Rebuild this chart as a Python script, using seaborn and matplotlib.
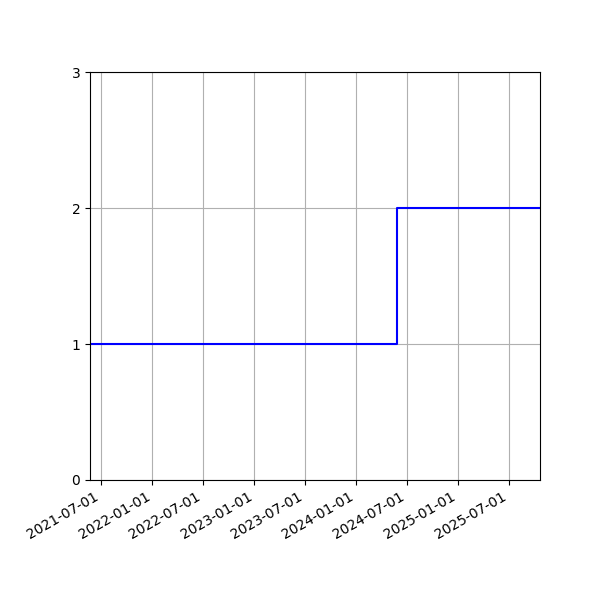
import pandas as pd
import matplotlib
matplotlib.use('Agg')
import matplotlib.pyplot as plt
import matplotlib.dates as mdates
import seaborn as sns

# Step data
dates = pd.to_datetime(['2021-05-22', '2024-05-28', '2025-10-21'])
counts = [1, 2, 2]

df = pd.DataFrame({'date': dates, 'count': counts})

fig, ax = plt.subplots(figsize=(6, 6), dpi=100)
sns.lineplot(data=df, x='date', y='count', drawstyle='steps-post', color='blue', ax=ax)

ax.set_xlim(dates[0], dates[-1])
ax.set_ylim(0, 3)
ax.set_yticks([0, 1, 2, 3])
ax.xaxis.set_major_locator(mdates.MonthLocator(bymonth=[1, 7]))
ax.xaxis.set_major_formatter(mdates.DateFormatter('%Y-%m-%d'))
ax.set_xlabel('')
ax.set_ylabel('')
ax.grid(True)
fig.autofmt_xdate()
fig.subplots_adjust(left=0.15, right=0.9, top=0.88, bottom=0.2)

fig.savefig('out.png')
